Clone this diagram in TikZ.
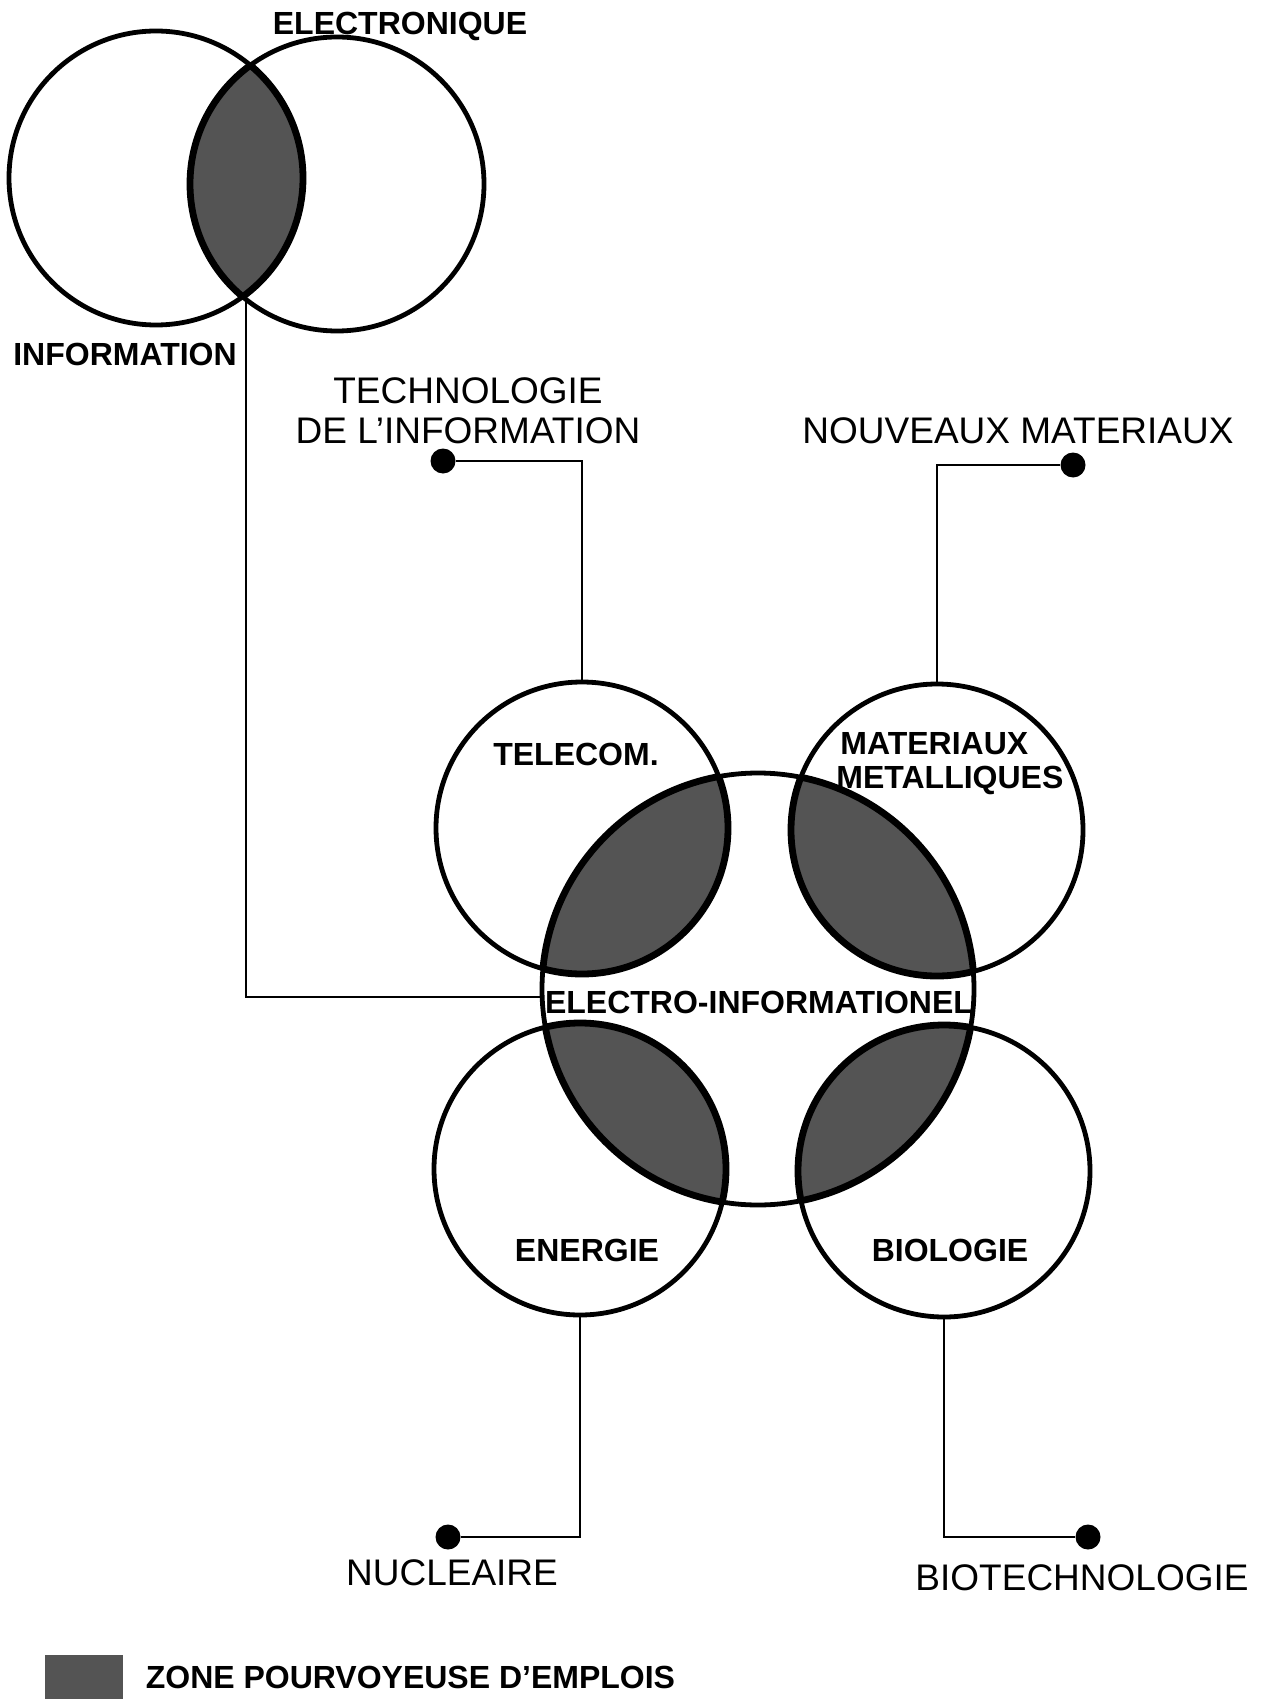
\documentclass[tikz,border=0pt]{standalone}
\usepackage{fontspec}
\setmainfont{Liberation Sans}
\usepackage{tikz}
\usetikzlibrary{positioning}

\begin{document}
\begin{tikzpicture}[x=0.5pt, y=-0.5pt, align=center,
    ring/.style={circle, draw, line width=2.4pt, inner sep=0pt, minimum size=#1},
    bullet/.style={circle, fill, inner sep=0pt, minimum size=12.5pt},
    wire/.style={line width=1.1pt},
    screen/.style={fill=black!67},
    rim/.style={line width=3.4pt},
    zonetext/.style={font=\bfseries\fontsize{16}{16}\selectfont, inner sep=0pt, text height=11.5pt, text depth=0pt},
    techtext/.style={font=\fontsize{18.5}{18.5}\selectfont, inner sep=0pt, text height=13.2pt, text depth=0pt}]
  \useasboundingbox (0,0) rectangle (1267,1701);
  % circles
  \node (info) [ring=147pt] at (156,178) {};
  \node (elec) [ring=147pt] at (337,184) {};
  \node (central) [ring=216pt] at (758,989) {};
  \node (telecom) [ring=146pt] at (582,828) {};
  \node (materiaux) [ring=146pt] at (937,830) {};
  \node (energie) [ring=146pt] at (580,1169) {};
  \node (biologie) [ring=146pt] at (944,1171) {};
  \coordinate (fork) at (246,296);
  % shaded zones
  \begin{scope}
    \clip (info.center) circle[radius=73.5pt];
    \fill[screen] (elec.center) circle[radius=73.5pt];
    \draw[rim] (elec.center) circle[radius=73.5pt];
  \end{scope}
  \begin{scope}
    \clip (elec.center) circle[radius=73.5pt];
    \draw[rim] (info.center) circle[radius=73.5pt];
  \end{scope}
  \foreach \outer in {telecom, materiaux, energie, biologie} {
    \begin{scope}
      \clip (central.center) circle[radius=108pt];
      \fill[screen] (\outer.center) circle[radius=73pt];
      \draw[rim] (\outer.center) circle[radius=73pt];
    \end{scope}
    \begin{scope}
      \clip (\outer.center) circle[radius=73pt];
      \draw[rim] (central.center) circle[radius=108pt];
    \end{scope}
  }
  % labels
  \node (electronique) [zonetext] at (400,23) {ELECTRONIQUE};
  \node (information) [zonetext] at (125,354) {INFORMATION};
  \node (telecomtext) [zonetext] at (576,754) {TELECOM.};
  \node (matA) [zonetext, anchor=west] at (840,743) {MATERIAUX};
  \node (matB) [zonetext, below=5pt of matA.south west, anchor=north west, xshift=-2pt] {METALLIQUES};
  \node (centraltext) [zonetext] at (759,1002) {ELECTRO-INFORMATIONEL};
  \node (energietext) [zonetext] at (587,1250) {ENERGIE};
  \node (biologietext) [zonetext] at (950,1250) {BIOLOGIE};
  % technologies
  \node (techdot) [bullet] at (443,461) {};
  \node (matdot) [bullet] at (1073,465) {};
  \node (nucdot) [bullet] at (448,1537) {};
  \node (biodot) [bullet] at (1088,1537) {};
  \node (techA) [techtext] at (468,390) {TECHNOLOGIE};
  \node (techB) [techtext, below=6.5pt of techA] {DE L’INFORMATION};
  \node (nouveaux) [techtext] at (1018,430) {NOUVEAUX MATERIAUX};
  \node (nucleaire) [techtext] at (452,1572) {NUCLEAIRE};
  \node (biotech) [techtext] at (1082,1577) {BIOTECHNOLOGIE};
  \draw[wire] (techdot) -| (telecom.north);
  \draw[wire] (matdot) -| (materiaux.north);
  \draw[wire] (energie.south) |- (nucdot);
  \draw[wire] (biologie.south) |- (biodot);
  \draw[wire] (fork) |- (central.182);
  % legend
  \node (key) [screen, inner sep=0pt, minimum width=39pt, minimum height=22pt] at (84,1677) {};
  \node (keytext) [zonetext, right=11pt of key] {ZONE POURVOYEUSE D’EMPLOIS};
\end{tikzpicture}
\end{document}
